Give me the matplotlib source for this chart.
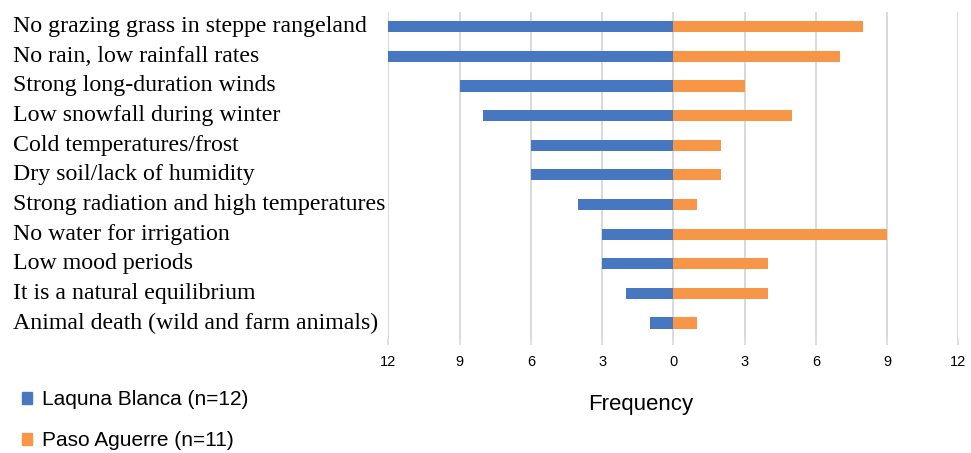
import numpy as np
import matplotlib.pyplot as plt
from matplotlib.patches import Patch
from matplotlib.transforms import blended_transform_factory

causes = ['No grazing grass in steppe rangeland', 'No rain, low rainfall rates',
          'Strong long-duration winds', 'Low snowfall during winter',
          'Cold temperatures/frost', 'Dry soil/lack of humidity',
          'Strong radiation and high temperatures', 'No water for irrigation',
          'Low mood periods', 'It is a natural equilibrium',
          'Animal death (wild and farm animals)']
laguna = [12, 12, 9, 8, 6, 6, 4, 3, 3, 2, 1]
paso = [8, 7, 3, 5, 2, 2, 1, 9, 4, 4, 1]
ticks = [-12, -9, -6, -3, 0, 3, 6, 9, 12]
tick_labels = ['12', '9', '6', '3', '0', '3', '6', '9', '12']

blue = '#4677c0'
orange = '#f79646'

fig = plt.figure(figsize=(9.71, 4.53), dpi=100)
ax = fig.add_axes([0.4, 0.254, 0.587, 0.72])

y = np.arange(len(causes))
ax.barh(y, -np.array(laguna), height=0.38, color=blue, zorder=3)
ax.barh(y, paso, height=0.38, color=orange, zorder=3)

ax.set_xlim(-12, 12)
ax.set_ylim(len(causes) - 0.5, -0.5)
ax.set_xticks(ticks)
ax.set_xticklabels(tick_labels, fontsize=10.5, family='Liberation Sans')
ax.tick_params(axis='x', length=5, color='#d9d9d9', width=1.2, pad=7)
ax.set_yticks([])
ax.grid(axis='x', color='#d9d9d9', linewidth=1.4, zorder=0)
for s in ax.spines.values():
    s.set_visible(False)

# category names sit at the left edge of the figure
trans = blended_transform_factory(fig.transFigure, ax.transData)
for i, c in enumerate(causes):
    ax.text(13 / 971, i, c, transform=trans,
            ha='left', va='center', fontsize=17.2, family='Liberation Serif')

ax.set_xlabel('Frequency', fontsize=16, family='Liberation Sans')
ax.xaxis.set_label_coords(0.442, -0.172)

handles = [Patch(color=blue, label='Laquna Blanca (n=12)'),
           Patch(color=orange, label='Paso Aguerre (n=11)')]
fig.legend(handles=handles, loc='upper left', bbox_to_anchor=(0.003, 0.18),
           frameon=False, prop={'family': 'Liberation Sans', 'size': 15},
           handlelength=0.5, handleheight=0.5, labelspacing=1.05, handletextpad=0.5)

fig.savefig('out.png', dpi=100)
